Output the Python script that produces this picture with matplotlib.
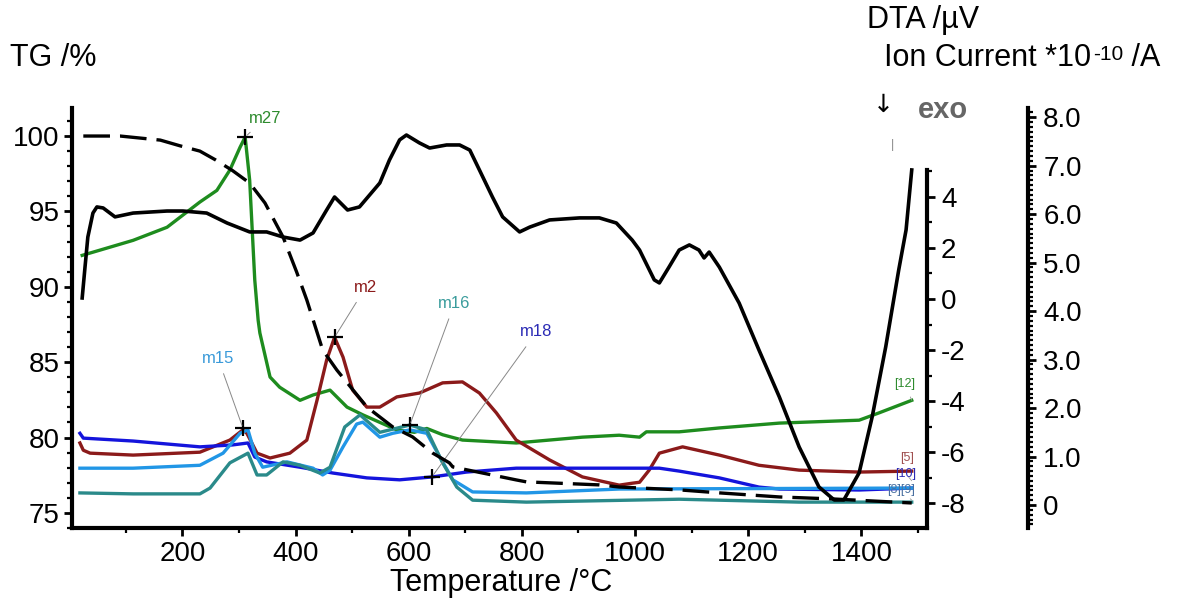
import numpy as np
import matplotlib
matplotlib.use('Agg')
import matplotlib.pyplot as plt
from matplotlib.ticker import MultipleLocator, FixedLocator

plt.rcParams['font.family'] = ['Liberation Sans', 'DejaVu Sans']
plt.rcParams['axes.unicode_minus'] = False

# ── data (temperature in °C) ────────────────────────────────────────────────
tg_T = [25, 90, 161, 196, 231, 259, 289, 319, 346, 378, 402, 420, 448, 473,
        526, 572, 607, 642, 672, 678, 790, 808, 937, 972, 1078, 1149, 1255,
        1348, 1489]
tg_val = [100.0, 100.0, 99.73, 99.35, 99.0, 98.41, 97.7, 96.88, 95.56, 93.30,
          90.98, 89.12, 85.81, 84.48, 82.03, 80.70, 80.04, 78.98, 78.32, 78.05,
          77.19, 77.06, 76.86, 76.72, 76.53, 76.33, 76.06, 75.93, 75.66]

dta_T = [23, 28, 33, 42, 49, 60, 81, 113, 173, 201, 243, 279, 319, 349, 378,
         408, 431, 455, 469, 492, 513, 549, 566, 584, 596, 619, 637, 667, 690,
         708, 725, 748, 766, 796, 814, 849, 902, 937, 967, 995, 1008, 1034,
         1043, 1060, 1078, 1096, 1113, 1122, 1131, 1149, 1184, 1219, 1255, 1290,
         1325, 1352, 1369, 1396, 1419, 1443, 1466, 1479, 1489]
dta_val = [0.04, 1.25, 2.43, 3.37, 3.61, 3.57, 3.22, 3.37, 3.45, 3.45, 3.37,
           2.98, 2.63, 2.63, 2.43, 2.31, 2.59, 3.49, 4.0, 3.49, 3.61, 4.55, 5.45,
           6.24, 6.43, 6.12, 5.92, 6.04, 6.04, 5.84, 5.06, 4.0, 3.22, 2.63, 2.82,
           3.10, 3.18, 3.18, 2.98, 2.31, 1.92, 0.75, 0.63, 1.25, 1.92, 2.12, 1.92,
           1.61, 1.84, 1.25, -0.16, -2.0, -3.84, -5.80, -7.37, -7.88, -7.88,
           -6.82, -4.63, -1.88, 1.14, 2.71, 5.06]

m27_T = [23, 55, 113, 173, 231, 261, 284, 302, 311, 319, 328, 334, 337, 355,
         372, 408, 431, 461, 491, 519, 579, 610, 632, 660, 695, 790, 907, 972,
         1008, 1020, 1078, 1149, 1255, 1396, 1431, 1489]
m27_val = [5.15, 5.26, 5.46, 5.73, 6.25, 6.49, 6.91, 7.38, 7.59, 6.70, 4.64,
           3.81, 3.55, 2.64, 2.43, 2.16, 2.27, 2.37, 2.02, 1.86, 1.55, 1.50,
           1.58, 1.45, 1.34, 1.28, 1.40, 1.44, 1.40, 1.51, 1.51, 1.59, 1.69,
           1.75, 1.90, 2.16]

m2_T = [19, 25, 37, 113, 231, 284, 307, 314, 332, 355, 390, 420, 438, 455,
        469, 484, 501, 526, 549, 579, 619, 660, 695, 725, 755, 790, 849, 907,
        972, 995, 1008, 1025, 1043, 1084, 1149, 1219, 1290, 1396, 1489]
m2_val = [1.28, 1.13, 1.07, 1.03, 1.09, 1.34, 1.55, 1.48, 1.07, 0.97, 1.07,
          1.34, 2.16, 2.99, 3.46, 3.05, 2.37, 2.02, 2.02, 2.23, 2.31, 2.52, 2.54,
          2.31, 1.90, 1.34, 0.93, 0.58, 0.41, 0.45, 0.47, 0.72, 1.07, 1.20, 1.03,
          0.82, 0.72, 0.68, 0.70]

m15_T = [19, 113, 231, 272, 302, 316, 328, 342, 385, 431, 448, 461, 484, 508,
         519, 549, 572, 602, 632, 655, 678, 713, 808, 972, 1489]
m15_val = [0.76, 0.76, 0.82, 1.07, 1.48, 1.55, 1.07, 0.78, 0.89, 0.76, 0.62,
           0.72, 1.20, 1.67, 1.71, 1.40, 1.48, 1.55, 1.48, 0.99, 0.52, 0.27,
           0.25, 0.33, 0.35]

m16_T = [19, 113, 231, 249, 284, 316, 332, 349, 378, 408, 443, 461, 487, 514,
         549, 602, 632, 660, 685, 713, 808, 1078, 1290, 1489]
m16_val = [0.25, 0.23, 0.23, 0.35, 0.87, 1.07, 0.62, 0.62, 0.89, 0.82, 0.66,
           0.78, 1.61, 1.86, 1.50, 1.65, 1.55, 0.87, 0.37, 0.10, 0.06, 0.12,
           0.06, 0.06]

m18_T = [19, 25, 113, 231, 289, 316, 328, 349, 408, 466, 526, 584, 642, 702,
         790, 907, 1043, 1078, 1149, 1219, 1255, 1396, 1489]
m18_val = [1.48, 1.38, 1.32, 1.20, 1.24, 1.28, 0.99, 0.89, 0.78, 0.66, 0.56,
           0.52, 0.58, 0.68, 0.76, 0.76, 0.76, 0.70, 0.56, 0.37, 0.33, 0.31, 0.35]

# peak markers: (name, T, ion value, label T, label value, colour)
peaks = [('m27', 311, 7.59, 346, 7.98, '#2e8b2e'),
         ('m2', 469, 3.46, 524, 4.49, '#8b1a1a'),
         ('m15', 307, 1.59, 263, 3.03, '#3a9ad9'),
         ('m16', 602, 1.65, 681, 4.16, '#3a9c9c'),
         ('m18', 641, 0.58, 826, 3.57, '#2b2bb5')]

end_tags = [('[12]', 1489, 2.16, 1477, 2.49, '#2e8b2e'),
            ('[5]', 1489, 0.70, 1481, 0.97, '#a05050'),
            ('[10]', 1489, 0.50, 1479, 0.64, '#2b2bb5'),
            ('[8][9]', 1489, 0.10, 1470, 0.31, '#4a70a0')]

tg_ticks = [75, 80, 85, 90, 95, 100]
dta_ticks = [-8, -6, -4, -2, 0, 2, 4]
dta_minor = [-7, -5, -3, -1, 1, 3, 5]
ion_ticks = [0, 1, 2, 3, 4, 5, 6, 7, 8]
ion_labels = ['0', '1.0', '2.0', '3.0', '4.0', '5.0', '6.0', '7.0', '8.0']
x_ticks = [200, 400, 600, 800, 1000, 1200, 1400]

c_green = '#1e8c1e'
c_red = '#8b1a1a'
c_lblue = '#2196e6'
c_teal = '#2a8a8a'
c_blue = '#1414dc'

# ── figure ───────────────────────────────────────────────────────────────────
fig = plt.figure(figsize=(11.92, 6.06), dpi=100)
ax = fig.add_axes([0.0604, 0.1287, 0.7173, 0.6931])
ax_ion = ax.twinx()
ax_dta = ax.twinx()
ax_ion.set_zorder(1)
ax.set_zorder(2)
ax_dta.set_zorder(3)
for a in (ax, ax_ion, ax_dta):
    a.patch.set_visible(False)
    for s in a.spines.values():
        s.set_visible(False)
        s.set_linewidth(3)

# TG (left)
ax.plot(tg_T, tg_val, color='black', lw=2.4, dashes=(8, 3))
ax.set_xlim(5, 1516)
ax.set_ylim(74.0, 101.86)
ax.spines['left'].set_visible(True)
ax.spines['bottom'].set_visible(True)
ax.set_yticks(tg_ticks)
ax.set_xticks(x_ticks)
ax.xaxis.set_minor_locator(MultipleLocator(100))
ax.yaxis.set_minor_locator(MultipleLocator(1))

# DTA (inner right)
ax_dta.plot(dta_T, dta_val, color='black', lw=2.6)
ax_dta.set_ylim(-8.98, 7.49)
ax_dta.spines['right'].set_visible(True)
ax_dta.spines['right'].set_bounds(-8.98, 5.05)
ax_dta.set_yticks(dta_ticks)
ax_dta.yaxis.set_minor_locator(FixedLocator(dta_minor))

# Ion currents (outer right)
ax_ion.plot(m27_T, m27_val, color=c_green, lw=2.4)
ax_ion.plot(m2_T, m2_val, color=c_red, lw=2.4)
ax_ion.plot(m18_T, m18_val, color=c_blue, lw=2.4)
ax_ion.plot(m15_T, m15_val, color=c_lblue, lw=2.4)
ax_ion.plot(m16_T, m16_val, color=c_teal, lw=2.4)
ax_ion.set_ylim(-0.474, 8.19)
ax_ion.spines['right'].set_visible(True)
ax_ion.spines['right'].set_position(('axes', 1.118))
ax_ion.set_yticks(ion_ticks, ion_labels)
ax_ion.yaxis.set_minor_locator(MultipleLocator(0.1))

for name, t, v, lt, lv, col in peaks:
    ax_ion.plot(t, v, marker='+', color='black', ms=12, mew=1.6)
    ax_ion.annotate(name, xy=(t, v), xytext=(lt, lv), ha='center', va='center',
                    fontsize=12, color=col,
                    arrowprops=dict(arrowstyle='-', color='#888888', lw=0.7,
                                    shrinkA=4, shrinkB=2))
for name, t, v, lt, lv, col in end_tags:
    ax_ion.annotate(name, xy=(t, v), xytext=(lt, lv), ha='center', va='center',
                    fontsize=9, color=col,
                    arrowprops=dict(arrowstyle='-', color='#999999', lw=0.6,
                                    shrinkA=3, shrinkB=0))

for a in (ax, ax_ion, ax_dta):
    a.tick_params(which='major', length=6, width=2, labelsize=20, direction='out')
    a.tick_params(which='minor', length=3.5, width=1.6, direction='out')
ax.tick_params(axis='y', pad=3)
ax_dta.tick_params(axis='y', pad=4)
ax_ion.tick_params(axis='y', pad=5)

# labels
fig.text(0.008, 0.904, 'TG /%', fontsize=22, va='center', ha='left')
fig.text(0.727, 0.967, 'DTA /µV', fontsize=22, va='center', ha='left')
ion1 = fig.text(0.742, 0.904, 'Ion Current *10', fontsize=22,
                va='center', ha='left')
ion2 = ax_ion.annotate('-10', xy=(1.0, 1.0), xycoords=ion1, xytext=(1, -1),
                       textcoords='offset points', ha='left', va='top',
                       fontsize=15, annotation_clip=False)
ax_ion.annotate(' /A', xy=(1.0, 0.0), xycoords=(ion2, ion1), xytext=(0, 0),
                textcoords='offset points', ha='left', va='bottom',
                fontsize=22, annotation_clip=False)
fig.text(0.42, 0.038, 'Temperature /°C', fontsize=22, va='center', ha='center')
fig.text(0.741, 0.827, '↓', fontsize=18, va='center', ha='center',
         family='DejaVu Sans')
fig.text(0.770, 0.818, 'exo', fontsize=21, fontweight='bold', color='#666666',
         va='center', ha='left')
fig.text(0.749, 0.760, '|', fontsize=9, color='#888888', va='center', ha='center')

fig.savefig('out.png', dpi=100)
